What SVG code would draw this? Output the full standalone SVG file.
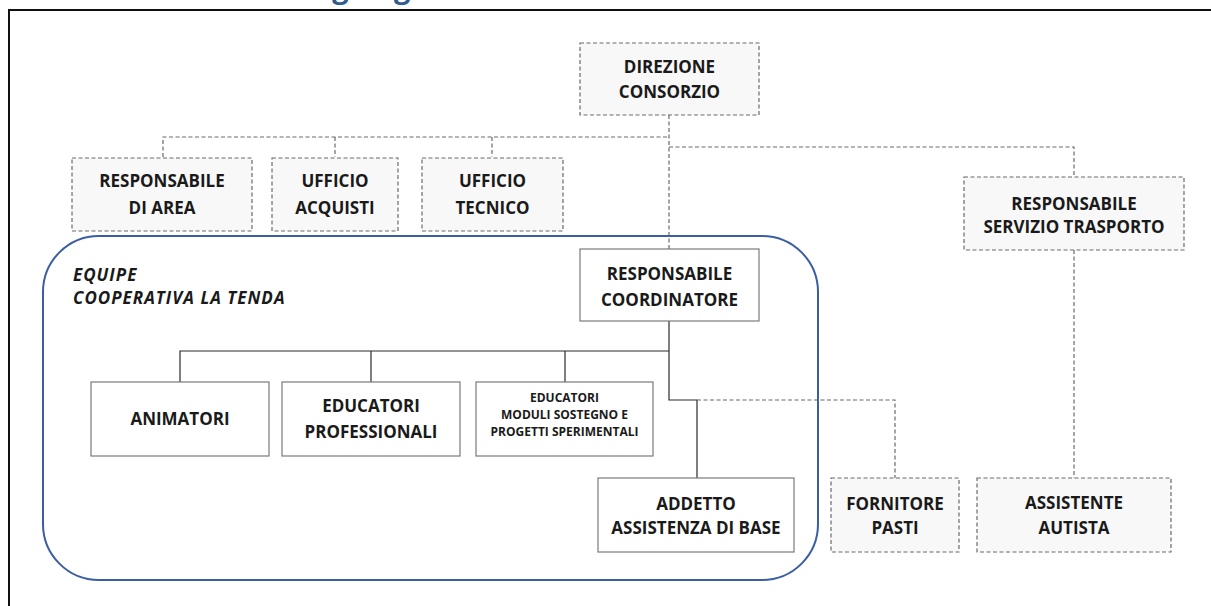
<svg xmlns="http://www.w3.org/2000/svg" width="1211" height="606" viewBox="0 0 1211 606">
<style>
.lbl{font-family:"Open Sans","Liberation Sans",sans-serif;font-weight:700;font-size:17px;fill:#1a1a1a;text-anchor:middle}
.sm{font-size:12px}
.dbox{fill:#f8f8f8;stroke:#6a6a6a;stroke-width:1.2;stroke-dasharray:4 2.5}
.sbox{fill:#ffffff;stroke:#7a7a7a;stroke-width:1.2}
.dl{fill:none;stroke:#6a6a6a;stroke-width:1.2;stroke-dasharray:4 2.5}
.sl{fill:none;stroke:#2a2a2a;stroke-width:1.2}
</style>
<rect x="0" y="0" width="1211" height="606" fill="#ffffff"/>
<text x="296" y="-2" font-family="'Open Sans','Liberation Sans',sans-serif" font-weight="700" font-size="29" fill="#2e5d8e">Organigramma</text>
<rect x="9" y="10" width="1212" height="610" fill="none" stroke="#111" stroke-width="2"/>
<rect id="equipe" x="43" y="236" width="775" height="344" rx="56" ry="56" fill="none" stroke="#3b5ea3" stroke-width="2"/>
<g id="equipe-label" font-family="'Open Sans','Liberation Sans',sans-serif" font-weight="700" font-style="italic" font-size="17" letter-spacing="1" fill="#1a1a1a">
<text x="73" y="281">EQUIPE</text>
<text x="73" y="304">COOPERATIVA LA TENDA</text>
</g>
<g id="connectors">
<path class="dl" d="M669 115V249"/>
<path class="dl" d="M163 157V137H669"/>
<path class="dl" d="M335 137V157"/>
<path class="dl" d="M492 137V157"/>
<path class="dl" d="M669 147H1074V177"/>
<path class="dl" d="M1074 250V478"/>
<path class="sl" d="M669 321V400H697V478"/>
<path class="sl" d="M180 382V351H669"/>
<path class="sl" d="M371 351V382"/>
<path class="sl" d="M565 351V382"/>
<path class="dl" d="M697 400H895V478"/>
</g>
<g id="direzione"><rect class="dbox" x="580" y="43" width="179" height="72"/><text class="lbl" x="669.5" y="73">DIREZIONE</text><text class="lbl" x="669.5" y="98">CONSORZIO</text></g>
<g id="resp-area"><rect class="dbox" x="72" y="158" width="180" height="73"/><text class="lbl" x="162" y="187">RESPONSABILE</text><text class="lbl" x="162" y="214">DI AREA</text></g>
<g id="uff-acquisti"><rect class="dbox" x="272" y="158" width="126" height="73"/><text class="lbl" x="335" y="187">UFFICIO</text><text class="lbl" x="335" y="214">ACQUISTI</text></g>
<g id="uff-tecnico"><rect class="dbox" x="422" y="158" width="141" height="73"/><text class="lbl" x="492.5" y="187">UFFICIO</text><text class="lbl" x="492.5" y="214">TECNICO</text></g>
<g id="resp-trasporto"><rect class="dbox" x="964" y="177" width="220" height="73"/><text class="lbl" x="1074" y="210">RESPONSABILE</text><text class="lbl" x="1074" y="233">SERVIZIO TRASPORTO</text></g>
<g id="resp-coordinatore"><rect class="sbox" x="580" y="249" width="179" height="72"/><text class="lbl" x="669.5" y="280">RESPONSABILE</text><text class="lbl" x="669.5" y="306">COORDINATORE</text></g>
<g id="animatori"><rect class="sbox" x="91" y="382" width="178" height="74"/><text class="lbl" x="180" y="425">ANIMATORI</text></g>
<g id="educatori-prof"><rect class="sbox" x="282" y="382" width="178" height="74"/><text class="lbl" x="371" y="412">EDUCATORI</text><text class="lbl" x="371" y="438">PROFESSIONALI</text></g>
<g id="educatori-moduli"><rect class="sbox" x="476" y="382" width="177" height="74"/><text class="lbl sm" x="564.5" y="402">EDUCATORI</text><text class="lbl sm" x="564.5" y="419">MODULI SOSTEGNO E</text><text class="lbl sm" x="564.5" y="436">PROGETTI SPERIMENTALI</text></g>
<g id="addetto"><rect class="sbox" x="598" y="478" width="196" height="74"/><text class="lbl" x="696" y="510">ADDETTO</text><text class="lbl" x="696" y="534">ASSISTENZA DI BASE</text></g>
<g id="fornitore"><rect class="dbox" x="831" y="478" width="128" height="74"/><text class="lbl" x="895" y="510">FORNITORE</text><text class="lbl" x="895" y="534">PASTI</text></g>
<g id="assistente"><rect class="dbox" x="977" y="478" width="194" height="74"/><text class="lbl" x="1074" y="509">ASSISTENTE</text><text class="lbl" x="1074" y="534">AUTISTA</text></g>
</svg>
